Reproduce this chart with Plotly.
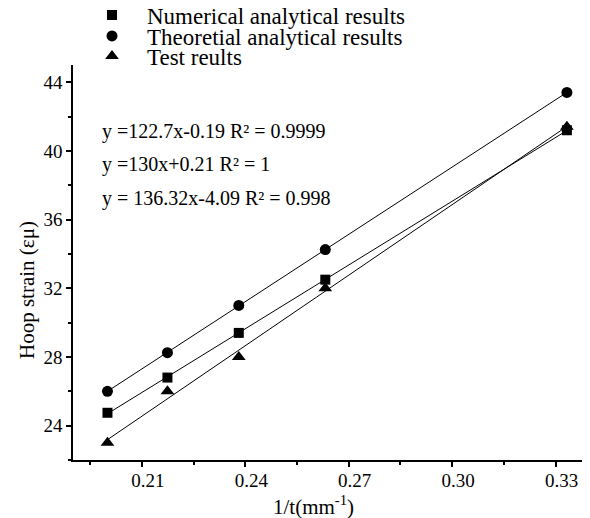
import numpy as np
import plotly.graph_objects as go

x_vals = [0.2, 0.2174, 0.2381, 0.2632, 0.3333]
numerical = [24.75, 26.8, 29.4, 32.5, 41.2]
theoretical = [26.0, 28.25, 31.0, 34.25, 43.4]
test = [23.0, 26.0, 28.0, 32.0, 41.4]

names = ["Numerical analytical results", "Theoretial analytical results", "Test reults"]
symbols = ["square", "circle", "triangle-up"]
sizes = [10, 11, 12]
series = [numerical, theoretical, test]
equations = ["y =122.7x-0.19 R² = 0.9999", "y =130x+0.21 R² = 1", "y = 136.32x-4.09 R² = 0.998"]
x_ticks = [0.21, 0.24, 0.27, 0.30, 0.33]
x_ticktext = ["0.21", "0.24", "0.27", "0.30", "0.33"]
y_ticks = [24, 28, 32, 36, 40, 44]

FONT = "Liberation Serif"
OFF = 8  # page body margin
FW, FH = 590 - OFF, 518 - OFF
L, T, W, H = 73 - OFF, 65 - OFF, 517, 395

def px_x(p):
    return (p - OFF - L) / W

def px_y(p):
    return 1 - (p - OFF - T) / H

fig = go.Figure()
xs = np.array(x_vals)
for ys in series:
    k, b = np.polyfit(xs, np.array(ys), 1)
    xl = np.array([xs.min(), xs.max()])
    fig.add_trace(go.Scatter(x=xl, y=k * xl + b, mode="lines",
                             line=dict(color="black", width=1), showlegend=False,
                             hoverinfo="skip"))
legend_ids = ["legend", "legend2", "legend3"]
for name, ys, sym, sz, lid in zip(names, series, symbols, sizes, legend_ids):
    fig.add_trace(go.Scatter(x=x_vals, y=ys, mode="markers", name=name, legend=lid,
                             marker=dict(symbol=sym, size=sz, color="black")))

eq_y = [131, 164, 198]
for txt, py in zip(equations, eq_y):
    fig.add_annotation(text=txt, xref="paper", yref="paper",
                       x=px_x(100), y=px_y(py),
                       xanchor="left", yanchor="middle", showarrow=False,
                       font=dict(family=FONT, size=20, color="black"))

fig.add_annotation(text="1/t(mm<sup>-1</sup>)", xref="paper", yref="paper",
                   x=px_x(313), y=px_y(505), xanchor="center", yanchor="middle",
                   showarrow=False, font=dict(family=FONT, size=21, color="black"))
fig.add_annotation(text="Hoop strain (εμ)", xref="paper", yref="paper",
                   x=px_x(27), y=px_y(290), xanchor="center", yanchor="middle",
                   textangle=-90, showarrow=False,
                   font=dict(family=FONT, size=21, color="black"))

leg_rows = [15, 36, 56]
legends = {}
for lid, py in zip(legend_ids, leg_rows):
    legends[lid] = dict(x=px_x(77), y=px_y(py), xanchor="left", yanchor="middle",
                        font=dict(family=FONT, size=23, color="black"),
                        bgcolor="rgba(0,0,0,0)", itemwidth=60)

fig.update_layout(
    width=FW, height=FH,
    margin=dict(l=L, r=FW - L - W, t=T, b=FH - T - H, autoexpand=False),
    paper_bgcolor="white", plot_bgcolor="white",
    font=dict(family=FONT, size=19, color="black"),
    **legends,
    xaxis=dict(range=[0.19, 0.34], tickvals=x_ticks, ticktext=x_ticktext,
               ticks="outside", ticklen=5, tickwidth=1.5, tickcolor="black",
               showline=True, linecolor="black", linewidth=1.5,
               showgrid=False, zeroline=False, ticklabelshift=6,
               ticklabelstandoff=-3, automargin=False,
               minor=dict(tickvals=[0.195, 0.225, 0.255, 0.285, 0.315], ticks="outside",
                          ticklen=3, tickwidth=1.5, tickcolor="black")),
    yaxis=dict(range=[22, 45], tickvals=y_ticks, automargin=False,
               ticks="outside", ticklen=5, tickwidth=1.5, tickcolor="black",
               showline=True, linecolor="black", linewidth=1.5,
               showgrid=False, zeroline=False,
               minor=dict(tickvals=[22, 26, 30, 34, 38, 42], ticks="outside",
                          ticklen=3, tickwidth=1.5, tickcolor="black")),
)

fig.write_html("out.html")
